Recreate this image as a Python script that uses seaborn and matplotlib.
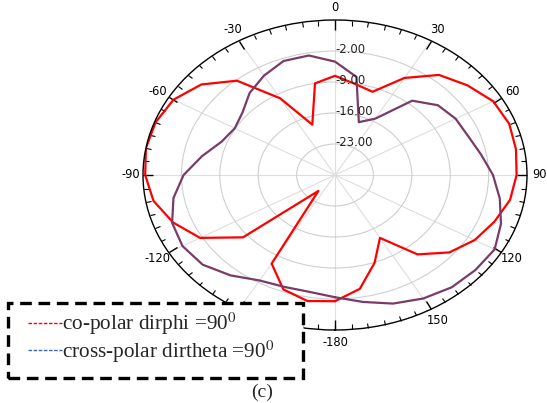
import numpy as np
import pandas as pd
import matplotlib
matplotlib.use("Agg")
import matplotlib.pyplot as plt
import seaborn as sns
from matplotlib.lines import Line2D
from matplotlib.patches import Rectangle

# Radiation pattern samples (dB), one every 10 degrees from -180 to 170
angles_deg = list(range(-180, 180, 10))
co_polar = [-1.5, -1.1, -2.5, -6.9, -25.3, -8.1, -1.6, 1.4, 3.6, 4.6,
            5.0, 4.8, 4.0, 1.8, -2.2, -10.0, -17.9, -9.0,
            -7.6, -9.1, -10.0, -4.7, -0.5, 1.5, 3.3, 3.8, 3.5, 3.1,
            2.4, 0.9, -0.6, -2.8, -6.6, -13.6, -8.9, -3.9]
cross_polar = [-2.4, -3.2, -3.1, -2.5, -0.4, 1.5, 2.1, 1.6, -0.1, -2.4,
               -5.4, -8.0, -8.9, -8.0, -5.8, -4.1, -2.6, -2.6,
               -4.4, -7.5, -17.3, -15.3, -8.1, -5.5, -4.6, -4.2, -3.0, -1.2,
               0.5, 2.2, 3.6, 3.4, 3.1, 2.2, 0.9, -0.9]

series_names = ["co-polar", "cross-polar"]
legend_labels = ["co-polar dirphi =90$^0$", "cross-polar dirtheta =90$^0$"]

# the -150 label sits under the legend box, so it is left blank
theta_ticks = [0, 30, 60, 90, 120, 150, 180, -150, -120, -90, -60, -30]
theta_tick_labels = ["0", "30", "60", "90", "120", "150", "-180",
                     "", "-120", "-90", "-60", "-30"]
ring_values = [-23, -16, -9, -2]
ring_labels = ["-23.00", "-16.00", "-9.00", "-2.00"]
r_min, r_max = -30, 5

sns.set_style("white")
plt.rcParams["font.family"] = ["DejaVu Sans"]
plt.rcParams["mathtext.fontset"] = "stix"

# closed loops for each trace
rows = []
for name, vals in zip(series_names, [co_polar, cross_polar]):
    angs = angles_deg + [angles_deg[0]]
    vv = vals + [vals[0]]
    for a, v in zip(angs, vv):
        rows.append({"theta": np.deg2rad(a), "gain": v, "series": name})
df = pd.DataFrame(rows)

fig = plt.figure(figsize=(5.47, 4.03), dpi=100)
ax = fig.add_axes([143 / 547, 73 / 403, 384 / 547, 310 / 403], projection="polar")
ax.set_theta_zero_location("N")
ax.set_theta_direction(-1)

sns.lineplot(data=df, x="theta", y="gain", hue="series",
             palette={"co-polar": "#ff0000", "cross-polar": "#7a3b68"},
             sort=False, estimator=None, legend=False, linewidth=1.6, ax=ax)

ax.set_thetamin(-180)
ax.set_thetamax(180)
ax.set_ylim(r_min, r_max)
ax.set_aspect("auto")
ax.set_xlabel("")
ax.set_ylabel("")

# angular axis: ticks only on the outer rim, pointing inward
ax.set_xticks(np.deg2rad(theta_ticks))
ax.set_xticklabels(theta_tick_labels)
ax.set_xticks(np.deg2rad(np.arange(-180, 180, 5)), minor=True)
ax.tick_params(axis="x", which="both", bottom=False, top=True, direction="in")
ax.tick_params(axis="x", which="major", length=7, width=1,
               labelsize=8.3, pad=2, colors="black")
ax.tick_params(axis="x", which="minor", length=3.5, width=0.8, colors="black")
ax.xaxis.grid(True, which="major", color="#dedede", linewidth=0.8)

# radial axis
ax.set_yticks(ring_values)
ax.set_yticklabels([])
ax.tick_params(axis="y", length=0)
ax.yaxis.grid(True, color="#cfcfcf", linewidth=0.8)
for rv, lbl in zip(ring_values, ring_labels):
    ax.text(0, rv + 0.4, lbl, ha="left", va="center", fontsize=8.4, color="#222222")

ax.spines["polar"].set_color("black")
ax.spines["polar"].set_linewidth(1.0)

# dashed legend box
box = Rectangle((8 / 547, 25 / 403), 295 / 547, 75 / 403, transform=fig.transFigure,
                facecolor="white", edgecolor="black", linewidth=2.4,
                linestyle=(0, (3.5, 2)), zorder=3)
fig.add_artist(box)

handles = [Line2D([], [], color="#ff0000", linestyle=(0, (2.5, 1.2)), linewidth=1.0),
           Line2D([], [], color="#3f66b5", linestyle=(0, (2.5, 1.2)), linewidth=1.0)]
leg = fig.legend(handles, legend_labels, loc="upper left",
                 bbox_to_anchor=(28 / 547, 1 - 311 / 403), frameon=False,
                 prop={"family": "Liberation Serif", "size": 15.3},
                 handlelength=1.6, handletextpad=0.0, labelspacing=0.05,
                 borderpad=0, borderaxespad=0)
leg.set_zorder(6)

fig.text(262 / 547, 1 - 392 / 403, "(c)", ha="center", va="center",
         family="Liberation Serif", fontsize=14)

fig.savefig("out.png", dpi=100)
